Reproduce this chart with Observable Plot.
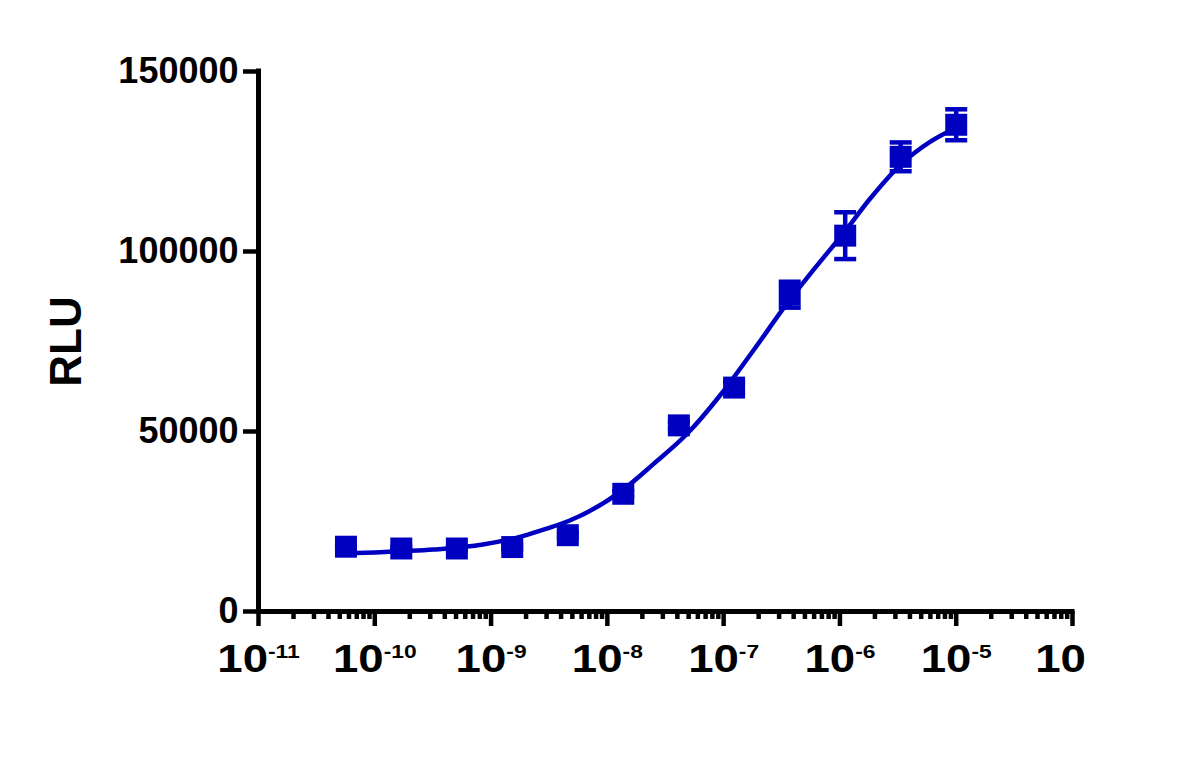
<!DOCTYPE html>
<html>
<head>
<meta charset="utf-8">
<script src="https://cdn.jsdelivr.net/npm/d3@7"></script>
<script src="https://cdn.jsdelivr.net/npm/@observablehq/plot@0.6"></script>
<style>
  html, body { margin: 0; padding: 0; background: #fff; }
</style>
</head>
<body>
<div id="chart"></div>
<script>
// ---- data ----
const concentrations = [5.65e-11, 1.69e-10, 5.08e-10, 1.52e-9, 4.57e-9, 1.37e-8, 4.12e-8, 1.23e-7, 3.70e-7, 1.11e-6, 3.33e-6, 1.0e-5];
const rluMean = [18000, 17500, 17500, 17900, 21200, 32700, 51700, 62200, 88000, 104400, 126300, 135200];
const rluSD   = [400, 500, 500, 600, 700, 800, 1000, 1500, 3600, 6500, 4000, 4300];

// fitted curve
const fitX = [4.8e-11, 1e-10, 3.2e-10, 8.5e-10, 1.9e-9, 3.0e-9, 4.7e-9, 1.3e-8, 2.5e-8, 4.9e-8, 9.3e-8, 1.8e-7, 3.5e-7, 6.5e-7, 1.07e-6, 1.8e-6, 3.3e-6, 6.0e-6, 1.02e-5];
const fitY = [16100, 16400, 17200, 18600, 21000, 23000, 25200, 33300, 41000, 49500, 60000, 72500, 85500, 96500, 105000, 114500, 124000, 130500, 134500];

const xTickValues = [1e-11, 1e-10, 1e-9, 1e-8, 1e-7, 1e-6, 1e-5, 1e-4];
const xTickExponents = ["-11", "-10", "-9", "-8", "-7", "-6", "-5", ""];
const yTickValues = [0, 50000, 100000, 150000];
const yLabel = "RLU";
const blue = "#0000C0";

// ---- build ----
const points = concentrations.map((x, i) => ({x, y: rluMean[i], lo: rluMean[i] - rluSD[i], hi: rluMean[i] + rluSD[i]}));
const fit = fitX.map((x, i) => ({x, y: fitY[i]}));
const xDomain = [xTickValues[0], xTickValues[xTickValues.length - 1]];
const minorTicks = d3.scaleLog().domain(xDomain).ticks()
  .filter(v => !xTickValues.some(t => Math.abs(v / t - 1) < 1e-6));

const capSymbol = {
  draw(ctx, size) {
    const r = Math.sqrt(size / Math.PI);
    ctx.moveTo(-r, 0);
    ctx.lineTo(r, 0);
  }
};

const xFmt = d => {
  const i = xTickValues.findIndex(t => Math.abs(d / t - 1) < 1e-6);
  return i < 0 ? "" : "10^" + xTickExponents[i];
};

const chart = Plot.plot({
  width: 1199,
  height: 782,
  marginLeft: 258,
  marginRight: 127,
  marginTop: 71,
  marginBottom: 171,
  x: {type: "log", domain: xDomain, label: null},
  y: {domain: [0, 150000], label: null},
  style: {fontFamily: "'Liberation Sans', Arial, sans-serif", fontWeight: "bold", color: "#000", background: "#fff", overflow: "visible"},
  marks: [
    Plot.axisX({ticks: minorTicks, tickSize: 8, tickFormat: () => "", strokeWidth: 4.5}),
    Plot.axisX({ticks: xTickValues, tickSize: 15, tickPadding: 19, fontSize: 38, strokeWidth: 4.5, tickFormat: xFmt}),
    Plot.axisY({ticks: yTickValues, tickSize: 15, tickPadding: 5, fontSize: 36, strokeWidth: 4.5, tickFormat: d => String(d)}),
    Plot.ruleY([0], {x1: xDomain[0], x2: xDomain[1], strokeWidth: 5, strokeLinecap: "square"}),
    Plot.ruleX([xDomain[0]], {y1: 0, y2: 150000, strokeWidth: 5, strokeLinecap: "square"}),
    Plot.text([yLabel], {text: d => d, frameAnchor: "left", textAnchor: "middle", rotate: -90, dx: -192, fontSize: 44, fontWeight: "bold"}),
    Plot.line(fit, {x: "x", y: "y", stroke: blue, strokeWidth: 4.5, curve: "monotone-x"}),
    Plot.ruleX(points, {x: "x", y1: "lo", y2: "hi", stroke: blue, strokeWidth: 4.5}),
    Plot.dot(points, {x: "x", y: "lo", symbol: capSymbol, r: 11, stroke: blue, strokeWidth: 4.5}),
    Plot.dot(points, {x: "x", y: "hi", symbol: capSymbol, r: 11, stroke: blue, strokeWidth: 4.5}),
    Plot.dot(points, {x: "x", y: "y", symbol: "square", r: 12.4, fill: blue})
  ]
});

document.getElementById("chart").appendChild(chart);

// superscript exponents on the x tick labels
const NS = "http://www.w3.org/2000/svg";
chart.querySelectorAll('g[aria-label="x-axis tick label"] text').forEach(t => {
  const s = t.textContent;
  if (!s || s.indexOf("^") < 0) return;
  const [base, exp] = s.split("^");
  t.textContent = "";
  const b = document.createElementNS(NS, "tspan");
  b.textContent = base;
  t.appendChild(b);
  if (exp) {
    const e = document.createElementNS(NS, "tspan");
    e.setAttribute("dy", "-14");
    e.setAttribute("font-size", "19");
    e.textContent = exp;
    t.appendChild(e);
  }
  let tr = t.getAttribute("transform");
  if (!tr) {
    const x = +(t.getAttribute("x") || 0);
    tr = `translate(${x},0)`;
    t.removeAttribute("x");
  }
  if (!exp) {
    tr = `translate(-12,0) ` + tr;
  }
  t.setAttribute("transform", tr + " scale(1.2,1)");
});
</script>
</body>
</html>
